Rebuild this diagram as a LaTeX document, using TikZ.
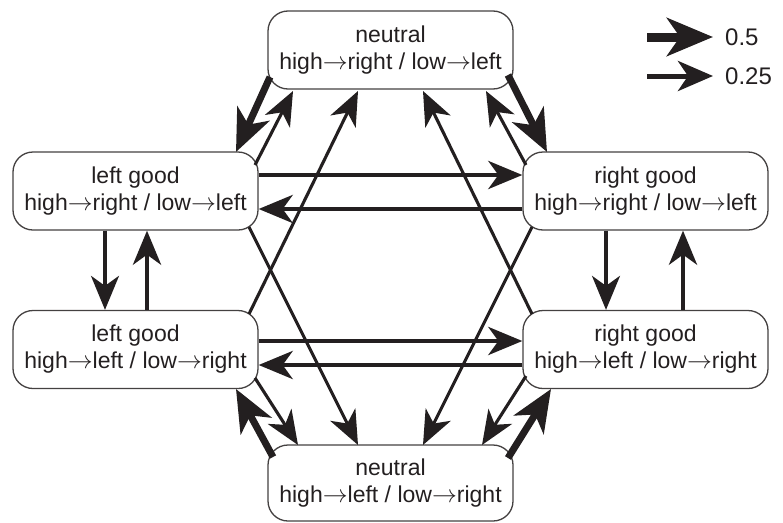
\documentclass[tikz,border=0pt]{standalone}
\usepackage{fontspec}
\setmainfont{Liberation Sans}
\usetikzlibrary{arrows.meta,calc}
\definecolor{ink}{HTML}{231F20}
\newcommand{\ra}{\ensuremath{\rightarrow}}
\begin{document}
\begin{tikzpicture}[x=1pt,y=-1pt,
  box/.style={draw=ink!85, line width=1.3pt, rounded corners=20pt, minimum width=245pt,
    minimum height=78pt, align=center, font=\fontsize{23}{27}\selectfont, text=ink, inner sep=0pt},
  thinarr/.style={draw=ink, line width=3.1pt, -{Stealth[length=34pt,width=28pt,inset=10pt]}},
  medarr/.style={draw=ink, line width=4.6pt, -{Stealth[length=34pt,width=28pt,inset=10pt]}},
  thickarr/.style={draw=ink, line width=7pt, -{Stealth[length=42pt,width=35pt,inset=12pt]}},
  legthick/.style={draw=ink, line width=9pt, -{Stealth[length=46pt,width=38pt,inset=13pt]}},
  legthin/.style={draw=ink, line width=5pt, -{Stealth[length=35pt,width=30pt,inset=10pt]}},
  legtext/.style={anchor=west, font=\fontsize{24}{28}\selectfont, text=ink, inner sep=0pt}]
\useasboundingbox (0,0) rectangle (783,522);

\node[box] (N1) at (390.5,50) {neutral\\high\ra right / low\ra left};
\node[box] (LG1) at (135.5,191) {left good\\high\ra right / low\ra left};
\node[box] (RG1) at (645.5,191) {right good\\high\ra right / low\ra left};
\node[box] (LG2) at (135.5,349.5) {left good\\high\ra left / low\ra right};
\node[box] (RG2) at (645.5,349.5) {right good\\high\ra left / low\ra right};
\node[box, minimum height=76pt] (N2) at (390.5,483) {neutral\\high\ra left / low\ra right};

% legend
\node[legtext] (L1) at (725,37) {0.5};
\node[legtext] (L2) at (725,76) {0.25};
\coordinate (la1) at (647,37);
\coordinate (la2) at (647,76);
\draw[legthick] (la1) -- ($(L1.west)+(-12,0)$);
\draw[legthin] (la2) -- ($(L2.west)+(-12,0)$);

% neutral top <-> left/right good 1
\draw[thickarr] ($(N1.center)+(-120.5,27)$) -- ($(LG1.center)+(100.5,-39)$);
\draw[thinarr] ($(LG1.center)+(119.5,-26)$) -- ($(N1.center)+(-97.5,41)$);
\draw[thickarr] ($(N1.center)+(117.5,25)$) -- ($(RG1.center)+(-98.5,-39)$);
\draw[thinarr] ($(RG1.center)+(-119.5,-26)$) -- ($(N1.center)+(95.5,41)$);
% good 2 -> neutral top
\draw[thinarr] ($(LG2.center)+(113.5,-35.5)$) -- ($(N1.center)+(-32.5,41)$);
\draw[thinarr] ($(RG2.center)+(-113.5,-35.5)$) -- ($(N1.center)+(32.5,41)$);
% horizontals
\draw[medarr] ($(LG1.east)+(0,-16)$) -- ($(RG1.west)+(0,-16)$);
\draw[medarr] ($(RG1.west)+(0,18)$) -- ($(LG1.east)+(0,18)$);
\draw[medarr] ($(LG2.east)+(0,-8.5)$) -- ($(RG2.west)+(0,-8.5)$);
\draw[medarr] ($(RG2.west)+(0,15.5)$) -- ($(LG2.east)+(0,15.5)$);
% verticals
\draw[thinarr] ($(LG1.south)+(-30.5,0)$) -- ($(LG2.north)+(-30.5,0)$);
\draw[medarr] ($(LG2.north)+(11.5,0)$) -- ($(LG1.south)+(11.5,0)$);
\draw[thinarr] ($(RG1.south)+(-39.5,0)$) -- ($(RG2.north)+(-39.5,0)$);
\draw[medarr] ($(RG2.north)+(37.5,0)$) -- ($(RG1.south)+(37.5,0)$);
% good 1 -> neutral bottom
\draw[thinarr] ($(LG1.center)+(113.5,36)$) -- ($(N2.center)+(-32.5,-38)$);
\draw[thinarr] ($(RG1.center)+(-113.5,36)$) -- ($(N2.center)+(32.5,-38)$);
% neutral bottom <-> good 2
\draw[thickarr] ($(N2.center)+(-117.5,-26)$) -- ($(LG2.center)+(100.5,39.5)$);
\draw[thinarr] ($(LG2.center)+(119.5,28.5)$) -- ($(N2.center)+(-92.5,-38)$);
\draw[thinarr] ($(RG2.center)+(-119.5,26.5)$) -- ($(N2.center)+(91.5,-38)$);
\draw[thickarr] ($(N2.center)+(117.5,-25)$) -- ($(RG2.center)+(-94.5,39.5)$);
\end{tikzpicture}
\end{document}
